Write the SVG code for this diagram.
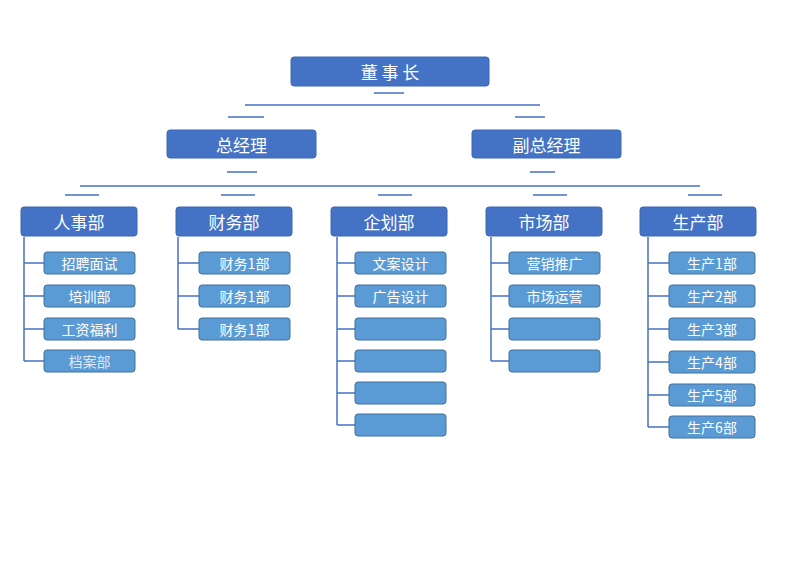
<svg xmlns="http://www.w3.org/2000/svg" width="800" height="566" viewBox="0 0 800 566">
<style>
.top{fill:#4472C4;stroke:#3d67b3;stroke-width:1}
.sub{fill:#5B9BD5;stroke:#41719C;stroke-width:1}
.t{font-family:"Noto Sans CJK SC","Liberation Sans",sans-serif;fill:#fff;text-anchor:middle;dominant-baseline:central}
.big{font-size:17px}
.sm{font-size:14px}
.ln{stroke:#4472C4;stroke-width:1.5;fill:none}
</style>
<rect width="800" height="566" fill="#fff"/>
<g id="connectors" class="ln">
<path d="M374 93H404M245 105H540M228 117H264M515 117H545M227 172H257M530 172H555M80 186H700M65 195H99M221 195H255M378 195H412M533 195H567M688 195H722"/>
<path d="M24 237V361M24 263H44M24 296H44M24 329H44M24 361H44"/>
<path d="M178 237V329M178 263H199M178 296H199M178 329H199"/>
<path d="M337 237V425M337 263H355M337 296H355M337 329H355M337 361H355M337 393H355M337 425H355"/>
<path d="M491 237V361M491 263H509M491 296H509M491 329H509M491 361H509"/>
<path d="M648 237V427M648 263H669M648 296H669M648 329H669M648 362H669M648 395H669M648 427H669"/>
</g>
<g id="chairman"><rect class="top" x="291" y="57" width="198" height="29" rx="3"/><text class="t big" x="390" y="71.5">董 事 长</text></g>
<g id="gm"><rect class="top" x="167" y="130" width="149" height="28" rx="3"/><text class="t big" x="241.5" y="144">总经理</text></g>
<g id="vgm"><rect class="top" x="472" y="130" width="149" height="28" rx="3"/><text class="t big" x="546.5" y="144">副总经理</text></g>
<g id="hr"><rect class="top" x="21" y="207" width="116" height="29" rx="3"/><text class="t big" x="79" y="221.5">人事部</text></g>
<g id="fin"><rect class="top" x="176" y="207" width="116" height="29" rx="3"/><text class="t big" x="234" y="221.5">财务部</text></g>
<g id="plan"><rect class="top" x="331" y="207" width="116" height="29" rx="3"/><text class="t big" x="389" y="221.5">企划部</text></g>
<g id="mkt"><rect class="top" x="486" y="207" width="116" height="29" rx="3"/><text class="t big" x="544" y="221.5">市场部</text></g>
<g id="prod"><rect class="top" x="640" y="207" width="116" height="29" rx="3"/><text class="t big" x="698" y="221.5">生产部</text></g>
<g id="hr1"><rect class="sub" x="44" y="252" width="91" height="22" rx="3"/><text class="t sm" x="89.5" y="263">招聘面试</text></g>
<g id="hr2"><rect class="sub" x="44" y="285" width="91" height="22" rx="3"/><text class="t sm" x="89.5" y="296">培训部</text></g>
<g id="hr3"><rect class="sub" x="44" y="318" width="91" height="22" rx="3"/><text class="t sm" x="89.5" y="329">工资福利</text></g>
<g id="hr4"><rect class="sub" x="44" y="350" width="91" height="22" rx="3"/><text class="t sm" x="89.5" y="361" fill-opacity="0.8">档案部</text></g>
<g id="fin1"><rect class="sub" x="199" y="252" width="91" height="22" rx="3"/><text class="t sm" x="244.5" y="263">财务1部</text></g>
<g id="fin2"><rect class="sub" x="199" y="285" width="91" height="22" rx="3"/><text class="t sm" x="244.5" y="296">财务1部</text></g>
<g id="fin3"><rect class="sub" x="199" y="318" width="91" height="22" rx="3"/><text class="t sm" x="244.5" y="329">财务1部</text></g>
<g id="plan1"><rect class="sub" x="355" y="252" width="91" height="22" rx="3"/><text class="t sm" x="400.5" y="263">文案设计</text></g>
<g id="plan2"><rect class="sub" x="355" y="285" width="91" height="22" rx="3"/><text class="t sm" x="400.5" y="296">广告设计</text></g>
<g id="plan3"><rect class="sub" x="355" y="318" width="91" height="22" rx="3"/></g>
<g id="plan4"><rect class="sub" x="355" y="350" width="91" height="22" rx="3"/></g>
<g id="plan5"><rect class="sub" x="355" y="382" width="91" height="22" rx="3"/></g>
<g id="plan6"><rect class="sub" x="355" y="414" width="91" height="22" rx="3"/></g>
<g id="mkt1"><rect class="sub" x="509" y="252" width="91" height="22" rx="3"/><text class="t sm" x="554.5" y="263">营销推广</text></g>
<g id="mkt2"><rect class="sub" x="509" y="285" width="91" height="22" rx="3"/><text class="t sm" x="554.5" y="296">市场运营</text></g>
<g id="mkt3"><rect class="sub" x="509" y="318" width="91" height="22" rx="3"/></g>
<g id="mkt4"><rect class="sub" x="509" y="350" width="91" height="22" rx="3"/></g>
<g id="p1"><rect class="sub" x="669" y="252" width="86" height="22" rx="3"/><text class="t sm" x="712" y="263">生产1部</text></g>
<g id="p2"><rect class="sub" x="669" y="285" width="86" height="22" rx="3"/><text class="t sm" x="712" y="296">生产2部</text></g>
<g id="p3"><rect class="sub" x="669" y="318" width="86" height="22" rx="3"/><text class="t sm" x="712" y="329">生产3部</text></g>
<g id="p4"><rect class="sub" x="669" y="351" width="86" height="22" rx="3"/><text class="t sm" x="712" y="362">生产4部</text></g>
<g id="p5"><rect class="sub" x="669" y="384" width="86" height="22" rx="3"/><text class="t sm" x="712" y="395">生产5部</text></g>
<g id="p6"><rect class="sub" x="669" y="416" width="86" height="22" rx="3"/><text class="t sm" x="712" y="427">生产6部</text></g>
</svg>
